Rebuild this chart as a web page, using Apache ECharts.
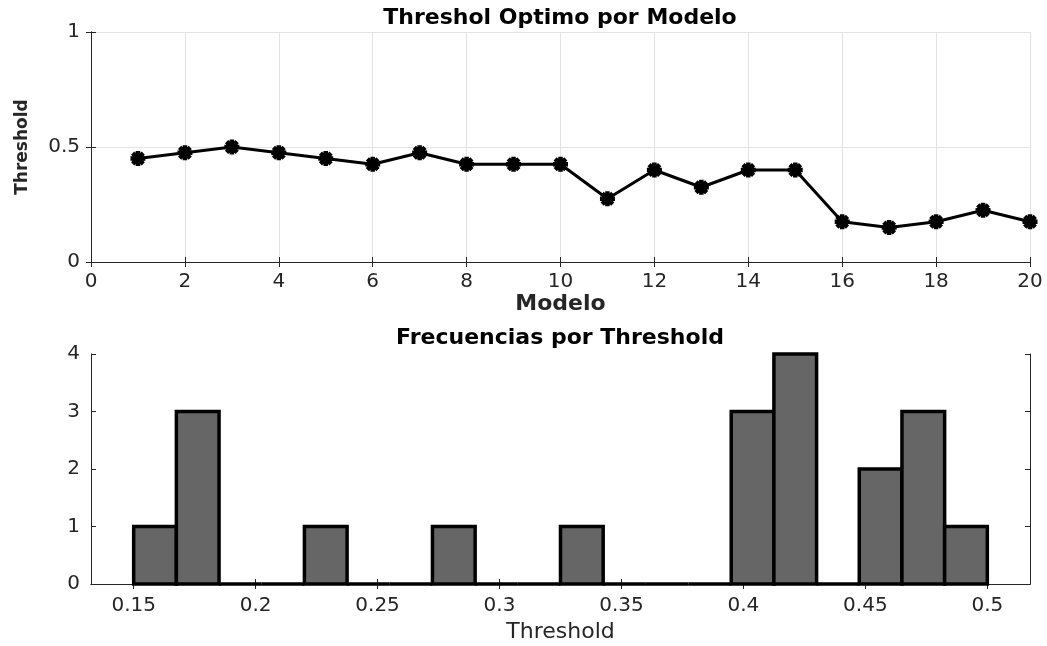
<!DOCTYPE html>
<html>
<head>
<meta charset="utf-8">
<script src="https://cdn.jsdelivr.net/npm/echarts@6/dist/echarts.min.js"></script>
<style>
  html, body { margin: 0; padding: 0; background: #fff; }
  #chart { width: 1047px; height: 646px; }
</style>
</head>
<body>
<div id="chart"></div>
<script>
// Optimal threshold found for each model
const modelos = [1, 2, 3, 4, 5, 6, 7, 8, 9, 10, 11, 12, 13, 14, 15, 16, 17, 18, 19, 20];
const thresholds = [0.45, 0.475, 0.5, 0.475, 0.45, 0.425, 0.475, 0.425, 0.425, 0.425,
                    0.275, 0.4, 0.325, 0.4, 0.4, 0.175, 0.15, 0.175, 0.225, 0.175];

// Histogram of those thresholds: bin edges and counts per bin
const binEdges = [0.15, 0.1675, 0.185, 0.2025, 0.22, 0.2375, 0.255, 0.2725, 0.29, 0.3075, 0.325,
                  0.3425, 0.36, 0.3775, 0.395, 0.4125, 0.43, 0.4475, 0.465, 0.4825, 0.5];
const binCounts = [1, 3, 0, 0, 1, 0, 0, 1, 0, 0, 1, 0, 0, 0, 3, 4, 0, 2, 3, 1];

// Tick labels of the histogram axis
const histTicks = [0.15, 0.2, 0.25, 0.3, 0.35, 0.4, 0.45, 0.5];

const FONT = 'DejaVu Sans';
const INK = '#262626';
const GRIDC = '#e3e3e3';

// Asterisk marker: plus + cross made of thick bars
const asterisk = 'path://' +
  'M-10,-3L10,-3L10,3L-10,3Z' +
  'M-3,-10L3,-10L3,10L-3,10Z' +
  'M-4.95,-9.19L9.19,4.95L4.95,9.19L-9.19,-4.95Z' +
  'M-9.19,4.95L4.95,-9.19L9.19,-4.95L-4.95,9.19Z';

const lineData = modelos.map((m, i) => [m, thresholds[i]]);
const histData = binCounts.map((c, i) => [binEdges[i], binEdges[i + 1], c]);

const chart = echarts.init(document.getElementById('chart'), null, { renderer: 'canvas' });

const labelStyle = { color: INK, fontFamily: FONT, fontSize: 20 };
const frameLine = { show: true, lineStyle: { color: INK, width: 1 } };
const inTick = { show: true, inside: true, length: 5, lineStyle: { color: INK, width: 1 } };

chart.setOption({
  animation: false,
  backgroundColor: '#fff',
  graphic: [
    { type: 'text', x: 560, y: 18, style: { text: 'Threshol Optimo por Modelo', fontFamily: FONT, fontWeight: 'bold', fontSize: 22, fill: '#000', align: 'center', verticalAlign: 'middle' } },
    { type: 'text', x: 560, y: 338, style: { text: 'Frecuencias por Threshold', fontFamily: FONT, fontWeight: 'bold', fontSize: 22, fill: '#000', align: 'center', verticalAlign: 'middle' } }
  ],
  grid: [
    { left: 91, right: 17, top: 32, height: 230 },
    { left: 91, right: 17, top: 354, height: 230 }
  ],
  xAxis: [
    {
      gridIndex: 0, type: 'value', min: 0, max: 20, interval: 2, position: 'bottom',
      axisLine: frameLine, axisTick: inTick,
      axisLabel: Object.assign({ margin: 10 }, labelStyle),
      splitLine: { show: true, lineStyle: { color: GRIDC, width: 1 } },
      name: 'Modelo', nameLocation: 'middle', nameGap: 31,
      nameTextStyle: { color: INK, fontFamily: FONT, fontWeight: 'bold', fontSize: 22 }
    },
    {
      gridIndex: 0, type: 'value', min: 0, max: 20, interval: 2, position: 'top',
      axisLine: frameLine, axisTick: inTick, axisLabel: { show: false }, splitLine: { show: false }
    },
    {
      gridIndex: 1, type: 'value', min: 0.1325, max: 0.5175, position: 'bottom',
      axisLine: frameLine,
      axisTick: Object.assign({ customValues: histTicks }, inTick),
      axisLabel: Object.assign({ margin: 12, customValues: histTicks, formatter: v => String(+(+v).toFixed(2)) }, labelStyle),
      splitLine: { show: false },
      name: 'Threshold', nameLocation: 'middle', nameGap: 37,
      nameTextStyle: { color: INK, fontFamily: FONT, fontSize: 22 }
    },
    {
      gridIndex: 1, type: 'value', min: 0.1325, max: 0.5175, position: 'top',
      axisLine: frameLine,
      axisTick: Object.assign({ customValues: histTicks }, inTick),
      axisLabel: { show: false }, splitLine: { show: false }
    }
  ],
  yAxis: [
    {
      gridIndex: 0, type: 'value', min: 0, max: 1, interval: 0.5, position: 'left',
      axisLine: frameLine, axisTick: inTick,
      axisLabel: Object.assign({ margin: 11 }, labelStyle),
      splitLine: { show: true, lineStyle: { color: GRIDC, width: 1 } },
      name: 'Threshold', nameLocation: 'middle', nameRotate: 90, nameGap: 60,
      nameTextStyle: { color: INK, fontFamily: FONT, fontWeight: 'bold', fontSize: 17 }
    },
    {
      gridIndex: 0, type: 'value', min: 0, max: 1, interval: 0.5, position: 'right',
      axisLine: frameLine, axisTick: inTick, axisLabel: { show: false }, splitLine: { show: false }
    },
    {
      gridIndex: 1, type: 'value', min: 0, max: 4, interval: 1, position: 'left',
      axisLine: frameLine, axisTick: inTick,
      axisLabel: Object.assign({ margin: 11 }, labelStyle),
      splitLine: { show: false }
    },
    {
      gridIndex: 1, type: 'value', min: 0, max: 4, interval: 1, position: 'right',
      axisLine: frameLine, axisTick: inTick, axisLabel: { show: false }, splitLine: { show: false }
    }
  ],
  series: [
    {
      type: 'line', xAxisIndex: 0, yAxisIndex: 0,
      data: lineData,
      lineStyle: { color: '#000', width: 3 },
      itemStyle: { color: '#000' },
      symbol: asterisk, symbolSize: 15, showSymbol: true,
      silent: true, z: 5
    },
    {
      type: 'custom', xAxisIndex: 2, yAxisIndex: 2,
      data: histData,
      encode: { x: [0, 1], y: 2 },
      silent: true, z: 5,
      renderItem: function (params, api) {
        const topLeft = api.coord([api.value(0), api.value(2)]);
        const bottomRight = api.coord([api.value(1), 0]);
        return {
          type: 'rect',
          shape: {
            x: topLeft[0], y: topLeft[1],
            width: bottomRight[0] - topLeft[0],
            height: bottomRight[1] - topLeft[1]
          },
          style: { fill: '#666666', stroke: '#000', lineWidth: 3.5 }
        };
      }
    }
  ]
});
</script>
</body>
</html>
